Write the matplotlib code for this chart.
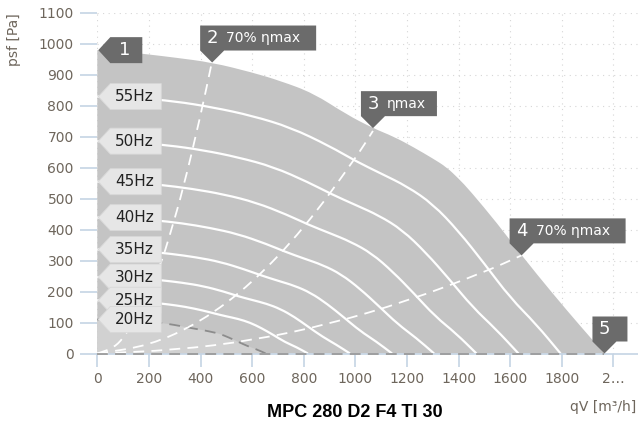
import matplotlib
matplotlib.use('Agg')
import matplotlib.pyplot as plt
from matplotlib.patches import Polygon, PathPatch
from matplotlib.path import Path
from matplotlib.transforms import IdentityTransform


# envelope of the working range (qV in m3/h, psf in Pa)
env_q = [0, 100, 200, 300, 445, 600, 708, 837, 966, 1068, 1150, 1224, 1300, 1353, 1400, 1443, 1550, 1644, 1764, 1870, 1965]
env_p = [980, 975, 966, 956, 940, 908, 881, 841, 772, 728, 700, 667, 630, 602, 565, 527, 420, 317, 194, 90, 0]

# fan curves per frequency
q55 = [0, 150, 300, 450, 600, 750, 900, 1000, 1100, 1200, 1300, 1400, 1500, 1600, 1700, 1795]
p55 = [830, 826, 815, 795, 768, 730, 670, 622, 581, 540, 483, 395, 290, 180, 95, 0]
q50 = [0, 136, 273, 409, 545, 682, 818, 909, 1000, 1091, 1182, 1273, 1364, 1455, 1545, 1632]
p50 = [686, 682, 673, 657, 634, 603, 553, 514, 480, 446, 399, 326, 240, 149, 78, 0]
q45 = [0, 123, 245, 368, 491, 614, 736, 818, 900, 982, 1064, 1145, 1227, 1309, 1391, 1469]
p45 = [555, 553, 545, 532, 514, 488, 448, 416, 389, 361, 323, 264, 194, 120, 64, 0]
q40 = [0, 109, 218, 327, 436, 545, 655, 727, 800, 873, 945, 1018, 1091, 1164, 1236, 1305]
p40 = [439, 437, 431, 421, 406, 386, 354, 329, 307, 286, 256, 209, 153, 95, 50, 0]
q35 = [0, 95, 191, 286, 382, 477, 573, 636, 700, 764, 827, 891, 955, 1018, 1082, 1142]
p35 = [336, 335, 330, 322, 311, 296, 271, 252, 235, 219, 196, 160, 117, 73, 38, 0]
q30 = [0, 82, 164, 245, 327, 409, 491, 545, 600, 655, 709, 764, 818, 873, 927, 979]
p30 = [247, 246, 243, 237, 229, 218, 200, 185, 173, 161, 144, 118, 86, 54, 28, 0]
q25 = [0, 68, 136, 205, 273, 341, 409, 455, 500, 545, 591, 636, 682, 727, 773, 816]
p25 = [172, 171, 169, 165, 159, 151, 139, 129, 120, 112, 100, 82, 60, 37, 20, 0]
q20 = [0, 55, 109, 164, 218, 273, 327, 364, 400, 436, 473, 509, 545, 582, 618, 653]
p20 = [110, 109, 108, 105, 101, 96, 88, 82, 77, 71, 64, 52, 38, 24, 13, 0]
hz_names = ['55Hz', '50Hz', '45Hz', '40Hz', '35Hz', '30Hz', '25Hz', '20Hz']

# system lines (efficiency points)
sys2_q = [0, 60, 100, 166, 244, 282, 333, 400, 445]
sys2_p = [0, 17, 48, 135, 283, 385, 533, 768, 945]
sys3_q = [0, 200, 400, 600, 800, 1000, 1068]
sys3_p = [0, 25, 101, 227, 403, 630, 719]
sys4_q = [0, 300, 600, 900, 1200, 1500, 1644]
sys4_p = [0, 11, 42, 95, 169, 263, 317]
sys5_q = [0, 1965]
sys5_p = [0, 0]

# numbered points
pt_q = [0, 445, 1068, 1644, 1965]
pt_p = [980, 940, 728, 317, 0]
pt_num = ['1', '2', '3', '4', '5']
pt_text = ['', '70% ηmax', 'ηmax', '70% ηmax', '']

x_ticks = [0, 200, 400, 600, 800, 1000, 1200, 1400, 1600, 1800, 2000]
x_labels = ['0', '200', '400', '600', '800', '1000', '1200', '1400', '1600', '1800', '2…']
y_ticks = [0, 100, 200, 300, 400, 500, 600, 700, 800, 900, 1000, 1100]


def smooth_path(q, p, close_to_axis=False):
    # quadratic bezier through the midpoints, the read points act as control points
    pts = list(zip(q, p))
    verts = [pts[0], ((pts[0][0] + pts[1][0]) / 2, (pts[0][1] + pts[1][1]) / 2)]
    codes = [Path.MOVETO, Path.LINETO]
    for i in range(1, len(pts) - 1):
        mid = ((pts[i][0] + pts[i + 1][0]) / 2, (pts[i][1] + pts[i + 1][1]) / 2)
        verts += [pts[i], mid]
        codes += [Path.CURVE3, Path.CURVE3]
    verts.append(pts[-1])
    codes.append(Path.LINETO)
    if close_to_axis:
        verts += [(q[-1], 0), (q[0], 0), pts[0]]
        codes += [Path.LINETO, Path.LINETO, Path.CLOSEPOLY]
    return Path(verts, codes)


fig = plt.figure(figsize=(6.38, 4.21), dpi=100)
ax = fig.add_axes([97.3 / 638, 67.5 / 421, 1 - 97.3 / 638, (421 - 13 - 67.5) / 421])
ax.set_xlim(0, 2095)
ax.set_ylim(0, 1100)

tick_col = '#6e665c'
axis_col = '#c5d4e4'

# grid
for y in y_ticks:
    ax.axhline(y, color='#d6d6d6', lw=0.8, ls=(0, (1, 4)), zorder=0)
for x in x_ticks:
    ax.axvline(x, color='#d6d6d6', lw=0.8, ls=(0, (1, 4)), zorder=0)

# working range
ax.add_patch(PathPatch(smooth_path(env_q, env_p, True), facecolor='#c4c4c4', lw=0, zorder=1))
ax.add_patch(PathPatch(smooth_path(q20, p20, True), facecolor='#d1d1d1', lw=0, zorder=1.5))

curves = [(q55, p55), (q50, p50), (q45, p45), (q40, p40), (q35, p35), (q30, p30), (q25, p25)]
for q, p in curves:
    ax.add_patch(PathPatch(smooth_path(q, p), facecolor='none', edgecolor='white', lw=1.6, zorder=2))
ax.add_patch(PathPatch(smooth_path(q20, p20), facecolor='none', edgecolor='#8c8c8c', lw=1.3,
                       ls=(0, (6, 4)), zorder=2))

for q, p in [(sys2_q, sys2_p), (sys3_q, sys3_p), (sys4_q, sys4_p)]:
    ax.add_patch(PathPatch(smooth_path(q, p), facecolor='none', edgecolor='white', lw=1.3,
                           ls=(0, (6, 4)), zorder=3))
ax.plot(sys5_q, sys5_p, color='#9a9a9a', lw=1.3, dashes=(6, 4), zorder=3, clip_on=False)

# axes styling
for s in ['left', 'right', 'top']:
    ax.spines[s].set_visible(False)
ax.spines['bottom'].set_color(axis_col)
ax.spines['bottom'].set_linewidth(1.2)
ax.spines['bottom'].set_zorder(2.5)
ax.set_xticks(x_ticks)
ax.set_xticklabels(x_labels)
ax.set_yticks(y_ticks)
ax.tick_params(axis='x', length=9, width=1.2, color=axis_col, labelcolor=tick_col, labelsize=10, pad=4)
ax.tick_params(axis='y', length=12, width=1.2, color=axis_col, labelcolor=tick_col, labelsize=10, pad=5)

ident = IdentityTransform()

# frequency labels at the left
x0 = ax.transData.transform((0, 0))[0]
for name, p in zip(hz_names, [p55[0], p50[0], p45[0], p40[0], p35[0], p30[0], p25[0], p20[0]]):
    yc = ax.transData.transform((0, p))[1]
    verts = [(x0 + 1, yc), (x0 + 13, yc + 13), (x0 + 64, yc + 13), (x0 + 64, yc - 13), (x0 + 13, yc - 13)]
    ax.add_patch(Polygon(verts, closed=True, transform=ident, facecolor='#e6e6e6',
                         edgecolor='#d8d8d8', lw=0.6, zorder=5, clip_on=False))
    ax.text(x0 + 18, yc, name, transform=ident, ha='left', va='center', fontsize=11,
            color='#222222', zorder=6)

# numbered callouts
widths = [45, 116, 76, 116, 35]
for q, p, num, txt, w in zip(pt_q, pt_p, pt_num, pt_text, widths):
    xt, yt = ax.transData.transform((q, p))
    if num == '1':
        verts = [(xt + 1, yt), (xt + 13, yt + 13), (xt + w, yt + 13), (xt + w, yt - 13), (xt + 13, yt - 13)]
        ax.add_patch(Polygon(verts, closed=True, transform=ident, facecolor='#6b6b6b', lw=0, zorder=7, clip_on=False))
        ax.text(xt + 27, yt, num, transform=ident, ha='center', va='center', fontsize=13,
                color='white', zorder=8)
        continue
    verts = [(xt, yt), (xt - 12, yt + 12), (xt - 12, yt + 37), (xt - 12 + w, yt + 37),
             (xt - 12 + w, yt + 12), (xt + 12, yt + 12)]
    ax.add_patch(Polygon(verts, closed=True, transform=ident, facecolor='#6b6b6b', lw=0, zorder=7, clip_on=False))
    ax.text(xt, yt + 24.5, num, transform=ident, ha='center', va='center', fontsize=13,
            color='white', zorder=8)
    if txt:
        ax.text(xt + 14, yt + 24.5, txt, transform=ident, ha='left', va='center', fontsize=10,
                color='white', zorder=8)

# axis titles and chart name
fig.text(14 / 638, 1 - 40 / 421, 'psf [Pa]', rotation=90, ha='center', va='center', fontsize=10, color=tick_col)
fig.text(636 / 638, 1 - 407 / 421, 'qV [m³/h]', ha='right', va='center', fontsize=10, color=tick_col)
fig.text(355 / 638, 1 - 404 / 421, 'MPC 280 D2 F4 TI 30', ha='center', va='top', fontsize=13,
         fontweight='bold', family='Liberation Sans', color='black')

fig.savefig('out.png', dpi=100)
